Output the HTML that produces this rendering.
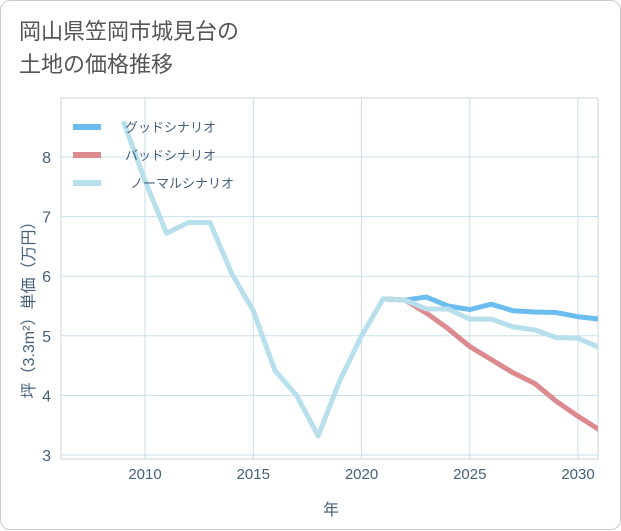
<!DOCTYPE html>
<html><head><meta charset="utf-8"><style>
body{margin:0;background:#fff;font-family:"Liberation Sans","Noto Sans CJK JP",sans-serif;}
#card{position:absolute;left:0;top:0;width:619px;height:528px;border:1px solid #ccc;border-radius:10px;background:#fff;}
#title{position:absolute;left:18px;top:14px;font-size:22px;line-height:33px;color:#555;}
</style></head><body>
<div id="card">
<div id="title">岡山県笠岡市城見台の<br>土地の価格推移</div>
<svg id="chart" width="621" height="530" style="position:absolute;left:0;top:0"></svg>
</div>
<script>
const years=[2009,2010,2011,2012,2013,2014,2015,2016,2017,2018,2019,2020,2021,2022,2023,2024,2025,2026,2027,2028,2029,2030,2031];
const normalVals=[8.6,7.6,6.72,6.9,6.9,6.05,5.42,4.42,4.0,3.32,4.25,5.0,5.62,5.6,5.45,5.45,5.28,5.28,5.15,5.1,4.97,4.96,4.8];
const scenYears=[2021,2022,2023,2024,2025,2026,2027,2028,2029,2030,2031];
const goodVals=[5.62,5.6,5.65,5.5,5.44,5.53,5.42,5.4,5.39,5.32,5.28];
const badVals=[5.62,5.6,5.38,5.12,4.82,4.6,4.38,4.2,3.9,3.65,3.42];
const xTicks=[2010,2015,2020,2025,2030];
const yTicks=[3,4,5,6,7,8];
const legendLabels=["グッドシナリオ","バッドシナリオ","ノーマルシナリオ"];
const NS="http://www.w3.org/2000/svg";
const svg=document.getElementById('chart');
const X0=60,X1=597,Y0=97,Y1=458;
const TC='#46607a';
const xs=y=>144+(y-2010)*21.65;
const ys=v=>156+(8-v)*59.6;
function mk(t,a,p){const e=document.createElementNS(NS,t);for(const k in a)e.setAttribute(k,a[k]);(p||svg).appendChild(e);return e;}
let bg=mk('rect',{x:X0,y:Y0,width:X1-X0,height:Y1-Y0,fill:'#fff',stroke:'#ccd6dd'});


for(let yr=2010;yr<=2030;yr+=5){
const l=mk('line',{x1:xs(yr),x2:xs(yr),y1:Y0,y2:Y1,stroke:'#c9dfea','stroke-width':1});

}
yTicks.forEach(v=>{const l=mk('line',{x1:X0,x2:X1,y1:ys(v),y2:ys(v),stroke:'#c9dfea','stroke-width':1});

});
xTicks.forEach(t=>{const e=mk('text',{x:xs(t),y:478,'text-anchor':'middle','font-size':15,fill:TC});e.textContent=t;

});
yTicks.forEach(t=>{const e=mk('text',{x:50,y:ys(t)+6,'text-anchor':'end','font-size':16,fill:TC});e.textContent=t;

});
let xt=mk('text',{x:330,y:514,'text-anchor':'middle','font-size':16,fill:TC});xt.textContent='年';


let yt=mk('text',{x:0,y:0,'text-anchor':'middle','font-size':16,fill:TC,transform:'translate(33,305) rotate(-90)'});yt.textContent='坪（3.3m²）単価（万円）';


const clip=mk('clipPath',{id:'c'});mk('rect',{x:X0,y:Y0,width:X1-X0,height:Y1-Y0},clip);
function line(xv,vals,color,name){const p=mk('polyline',{points:xv.map((y,i)=>xs(y)+','+ys(vals[i])).join(' '),fill:'none',stroke:color,'stroke-width':5,'stroke-linejoin':'round','clip-path':'url(#c)'});

}
line(scenYears,goodVals,'#6cbcf0','good-scenario-line');
line(scenYears,badVals,'#dc8a90','bad-scenario-line');
line(years,normalVals,'#b8dfec','normal-scenario-line');
const lc=['#6cbcf0','#dc8a90','#b8dfec'];
legendLabels.forEach((t,i)=>{const y=126+i*28;
const l=mk('line',{x1:72,x2:100,y1:y,y2:y,stroke:lc[i],'stroke-width':6});


const e=mk('text',{x:124+(i==2?5:0),y:y+5,'font-size':13,fill:TC});e.textContent=t;

});
</script>
</body></html>
